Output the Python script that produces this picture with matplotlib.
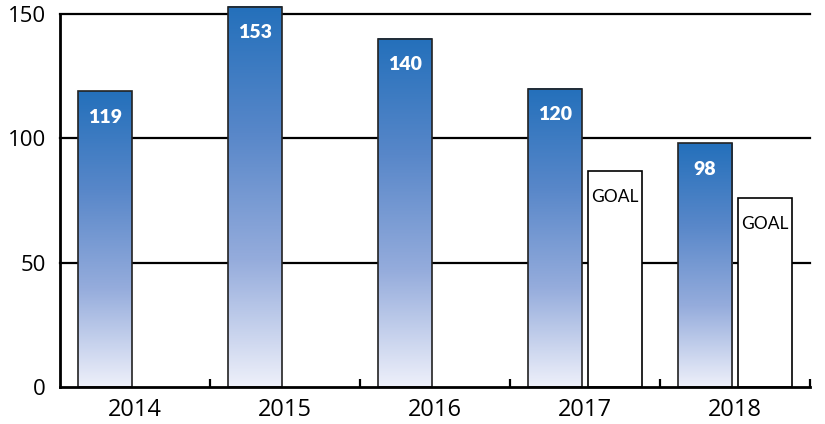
import numpy as np
import matplotlib.pyplot as plt
from matplotlib.colors import LinearSegmentedColormap

years = ['2014', '2015', '2016', '2017', '2018']
actual = [119, 153, 140, 120, 98]
goal_years = ['2017', '2018']
goal = [87, 76]
y_ticks = [0, 50, 100, 150]

plt.rcParams['font.family'] = ['Open Sans', 'DejaVu Sans']
label_font = ['Lato', 'DejaVu Sans']

fig = plt.figure(figsize=(8.25, 4.24), dpi=100)
ax = fig.add_axes([60 / 825, 37 / 424, 750 / 825, 373 / 424])

cmap = LinearSegmentedColormap.from_list('bluegrad', ['#eef0fa', '#95acdc', '#5887c9', '#2470bb'])
grad = np.linspace(0, 1, 256).reshape(-1, 1)

w = 0.36
for i, v in enumerate(actual):
    x0 = i + 0.12
    im = ax.imshow(grad, extent=[x0, x0 + w, 0, v], origin='lower', cmap=cmap,
                   aspect='auto', zorder=3, clip_on=False)
    bar = ax.bar(x0, v, width=w, align='edge', facecolor='none', edgecolor='#222222',
                 linewidth=1.2, zorder=4, clip_on=False)
    im.set_clip_path(bar[0])
    ax.text(x0 + w / 2, v - 10.5, str(v), ha='center', va='center', color='white',
            fontsize=14, fontweight='heavy', family=label_font, zorder=5)

for gy, g in zip(goal_years, goal):
    i = years.index(gy)
    x0 = i + 0.52
    ax.bar(x0, g, width=w, align='edge', facecolor='white', edgecolor='black',
           linewidth=1.2, zorder=4)
    ax.text(x0 + w / 2, g - 10.5, 'GOAL', ha='center', va='center', color='black',
            fontsize=12.5, family=label_font, zorder=5)

for y in y_ticks[1:]:
    ax.axhline(y, color='black', linewidth=1.6, zorder=2, clip_on=False)

ax.set_xlim(0, 5)
ax.set_ylim(0, 150)
ax.set_yticks(y_ticks)
ax.set_yticklabels([str(t) for t in y_ticks], fontsize=16)
ax.tick_params(axis='y', length=0, pad=10)

ax.set_xticks(np.arange(1, 6))
ax.set_xticklabels([])
ax.set_xticks(np.arange(len(years)) + 0.5, minor=True)
ax.set_xticklabels(years, minor=True, fontsize=17)
ax.tick_params(axis='x', which='major', direction='in', length=6, width=1.6, color='black')
ax.tick_params(axis='x', which='minor', length=0, pad=8)

for s in ['top', 'right']:
    ax.spines[s].set_visible(False)
ax.spines['left'].set_linewidth(2)
ax.spines['bottom'].set_linewidth(2)
ax.spines['left'].set_zorder(6)
ax.spines['bottom'].set_zorder(6)

fig.savefig('out.png', dpi=100)
